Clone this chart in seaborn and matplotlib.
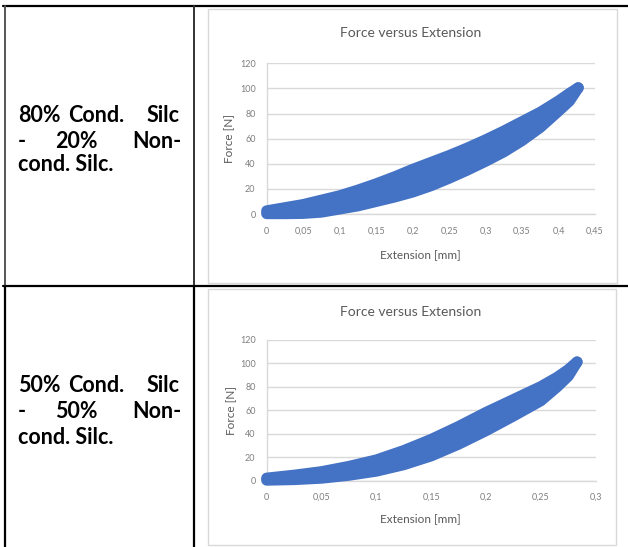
import matplotlib
matplotlib.use("Agg")
import matplotlib.pyplot as plt
import seaborn as sns
import pandas as pd
from matplotlib.patches import Rectangle
from matplotlib.lines import Line2D

# ---------------- data ----------------
ext_80 = [0.0, 0.025, 0.05, 0.075, 0.1, 0.125, 0.15, 0.175, 0.2, 0.225, 0.25,
          0.275, 0.3, 0.325, 0.35, 0.375, 0.4, 0.415, 0.427]
upper_80 = [2.5, 5.0, 7.5, 11.0, 14.5, 19.0, 24.0, 29.5, 35.5, 41.0, 46.5,
            52.5, 59.0, 66.0, 73.5, 81.0, 90.0, 96.0, 100.5]
lower_80 = [0.3, 0.3, 0.5, 1.5, 4.0, 6.5, 10.0, 13.5, 17.5, 22.5, 28.5,
            35.0, 42.0, 49.5, 58.5, 69.0, 82.0, 90.0, 100.5]

ext_50 = [0.0, 0.025, 0.05, 0.075, 0.1, 0.125, 0.15, 0.175, 0.2, 0.225, 0.25,
          0.265, 0.275, 0.283]
upper_50 = [2.0, 4.5, 7.5, 12.0, 17.5, 25.5, 35.0, 46.0, 58.0, 69.0, 80.0,
            88.0, 94.5, 101.0]
lower_50 = [0.3, 0.8, 2.0, 4.5, 8.0, 13.5, 21.0, 31.0, 42.5, 55.0, 68.0,
            80.0, 89.0, 101.0]

row_labels = [["80%", "Cond.", "Silc", "-", "20%", "Non-", "cond. Silc."],
              ["50%", "Cond.", "Silc", "-", "50%", "Non-", "cond. Silc."]]
chart_title = "Force versus Extension"
x_label = "Extension [mm]"
y_label = "Force [N]"
y_ticks = [0, 20, 40, 60, 80, 100, 120]
x_ticks_80 = [0, 0.05, 0.1, 0.15, 0.2, 0.25, 0.3, 0.35, 0.4, 0.45]
x_ticklabels_80 = ["0", "0,05", "0,1", "0,15", "0,2", "0,25", "0,3", "0,35", "0,4", "0,45"]
x_ticks_50 = [0, 0.05, 0.1, 0.15, 0.2, 0.25, 0.3]
x_ticklabels_50 = ["0", "0,05", "0,1", "0,15", "0,2", "0,25", "0,3"]

# ---------------- style ----------------
sns.set_theme(style="white")
plt.rcParams['font.family'] = ['Lato', 'DejaVu Sans']

W, H = 628, 547
fig = plt.figure(figsize=(W / 100, H / 100), dpi=100)
fig.patch.set_facecolor("white")

def fx(x):
    return x / W

def fy(y):
    return 1 - y / H

BLUE = "#4472C4"
GRID = "#d9d9d9"
TXT = "#595959"
TICK = "#7f7f7f"

def hline(y, x0, x1, color="black", lw=1.6):
    fig.add_artist(Line2D([fx(x0), fx(x1)], [fy(y), fy(y)], color=color, lw=lw,
                          transform=fig.transFigure))

def vline(x, y0, y1, color="black", lw=1.6):
    fig.add_artist(Line2D([fx(x), fx(x)], [fy(y0), fy(y1)], color=color, lw=lw,
                          transform=fig.transFigure))

hline(5.5, 3.5, 628)
hline(285.5, 3.5, 628)
vline(4.5, 5.5, 285.5, color="#555555", lw=1.4)
vline(4.5, 285.5, 547)
vline(194, 5.5, 285.5, color="#333333", lw=1.4)
vline(194, 285.5, 547)

for (x0, y0, x1, y1) in [(207.5, 9, 616.5, 282.5), (207.5, 289, 615.5, 545)]:
    fig.add_artist(Rectangle((fx(x0), fy(y1)), fx(x1 - x0), (y1 - y0) / H,
                             transform=fig.transFigure, facecolor="white",
                             edgecolor=GRID, lw=1.0, zorder=0))

def cell_text(words, y_lines):
    kw = dict(fontsize=15.5, fontweight="bold", color="black", va="center")
    fig.text(fx(18), fy(y_lines[0]), words[0], ha="left", **kw)
    fig.text(fx(96), fy(y_lines[0]), words[1], ha="center", **kw)
    fig.text(fx(180), fy(y_lines[0]), words[2], ha="right", **kw)
    fig.text(fx(18), fy(y_lines[1]), words[3], ha="left", **kw)
    fig.text(fx(76), fy(y_lines[1]), words[4], ha="center", **kw)
    fig.text(fx(181), fy(y_lines[1]), words[5], ha="right", **kw)
    fig.text(fx(18), fy(y_lines[2]), words[6], ha="left", **kw)

cell_text(row_labels[0], [115, 141, 165])
cell_text(row_labels[1], [386, 412, 437])

def make_chart(box, ext, upper, lower, xticks, xticklabels, xmax,
               title_y, xlabel_y, ylabel_x):
    left, right, top, bottom = box
    ax = fig.add_axes([fx(left), fy(bottom), fx(right - left), (bottom - top) / H])
    ax.set_facecolor("white")
    ax.fill_between(ext, lower, upper, color=BLUE, lw=0, zorder=2)
    df_u = pd.DataFrame({"Extension": ext, "Force": upper})
    df_l = pd.DataFrame({"Extension": ext, "Force": lower})
    for d in (df_u, df_l):
        sns.lineplot(data=d, x="Extension", y="Force", ax=ax, color=BLUE,
                     lw=8, sort=False, zorder=3, clip_on=False,
                     solid_capstyle="round", solid_joinstyle="round")
    ax.set_xlim(0, xmax)
    ax.set_ylim(0, 120)
    ax.set_yticks(y_ticks)
    ax.set_xticks(xticks)
    ax.set_xticklabels(xticklabels)
    ax.grid(axis="y", color=GRID, lw=1.0)
    ax.grid(axis="x", visible=False)
    ax.set_axisbelow(True)
    for s in ("top", "right"):
        ax.spines[s].set_visible(False)
    ax.spines["left"].set_color(GRID)
    ax.spines["bottom"].set_color(GRID)
    ax.spines["left"].set_linewidth(1.0)
    ax.spines["bottom"].set_linewidth(1.0)
    ax.tick_params(axis="both", length=0, labelsize=6.5, labelcolor=TICK)
    ax.tick_params(axis="x", pad=9)
    ax.tick_params(axis="y", pad=8)
    h = bottom - top
    wdt = right - left
    ax.set_xlabel(x_label, fontsize=8.5, color=TXT)
    ax.xaxis.set_label_coords((420 - left) / wdt, (bottom - xlabel_y) / h)
    ax.xaxis.label.set_va("center")
    ax.set_ylabel(y_label, fontsize=8.5, color=TXT)
    ax.yaxis.set_label_coords((ylabel_x - left) / wdt, 0.5)
    ax.yaxis.label.set_va("center")
    ax.text((411 - left) / wdt, (bottom - title_y) / h, chart_title,
            transform=ax.transAxes, ha="center", va="center",
            fontsize=10, color=TXT)
    return ax

make_chart((266.7, 595.0, 63.3, 214.0), ext_80, upper_80, lower_80,
           x_ticks_80, x_ticklabels_80, 0.45, 33, 255, 230)
make_chart((266.7, 595.7, 339.7, 480.5), ext_50, upper_50, lower_50,
           x_ticks_50, x_ticklabels_50, 0.3, 311.5, 519, 232)

fig.savefig("out.png", dpi=100, facecolor="white")
